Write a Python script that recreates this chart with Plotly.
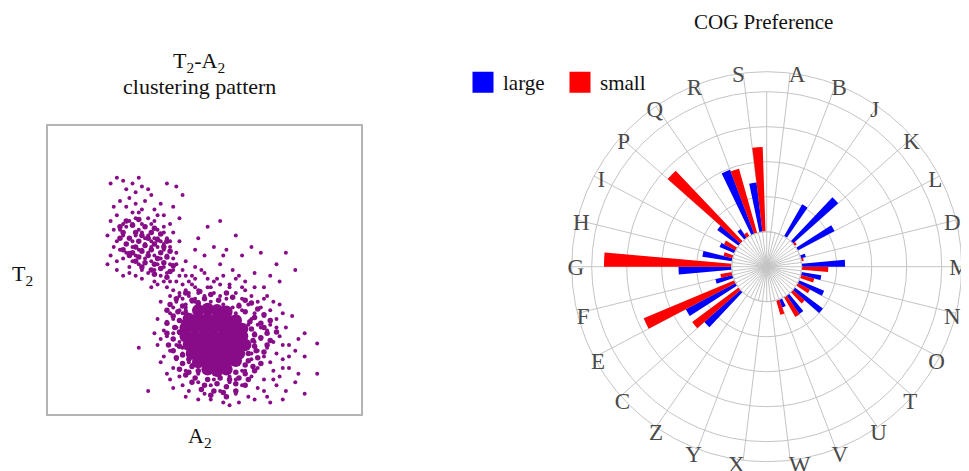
import plotly.graph_objects as go

W, H = 969, 471

# ---------------- data ----------------
cog_categories = ["A", "B", "J", "K", "L", "D", "M", "N", "O", "T", "U", "V", "W",
                  "X", "Y", "Z", "C", "E", "F", "G", "H", "I", "P", "Q", "R", "S"]
large_values = [0, 0, 1.05, 1.73, 1.19, 0.15, 1.24, 0.58, 0.78, 1.00, 0.64, 0.25, 0,
                0, 0, 0, 1.38, 1.61, 0.51, 1.52, 0.86, 0.46, 0.76, 0.31, 1.96, 1.42]
small_values = [0, 0, 0, 0.07, 0, 0.07, 0.76, 0.40, 0.40, 0.45, 0.65, 0.43, 0,
                0, 0, 0, 1.65, 2.81, 0.34, 3.65, 0.27, 0.38, 2.78, 0.13, 1.91, 2.42]
series_names = ["large", "small"]
series_colors = ["#0000ff", "#ff0000"]

# T2-A2 scatter (axis units 0-100)
# densest centre of the main cluster
core_points = [
    (48, 36), (51, 36.5), (54, 36), (57, 35.5),
    (45, 33), (48, 33), (51, 33), (54, 33), (57, 33), (60, 32.5),
    (44, 30), (47, 30), (50, 30), (53, 30), (56, 30), (59, 30), (62, 29.5),
    (44, 27), (47, 27), (50, 27), (53, 27), (56, 27), (59, 27), (62, 27),
    (45, 24), (48, 24), (51, 24), (54, 24), (57, 24), (60, 24), (63, 24),
    (46, 21), (49, 21), (52, 21), (55, 21), (58, 21), (61, 21),
    (48, 18), (51, 18), (54, 18), (57, 18), (60, 18.5),
    (51, 15.5), (54, 15), (57, 15.5),
]
# crowded halo of the main cluster and of the upper-left cluster
halo_points = [
    (44, 42), (48.5, 42.5), (52, 41.5), (57, 42),
    (41, 40), (46, 39.5), (50, 40), (54.5, 39.5), (59, 40.5), (63, 39.5),
    (39, 38), (43, 37.5), (48, 38.5), (61, 37.5), (65, 38.5),
    (38, 36), (41.5, 35.5), (63, 35.5), (67, 36.5),
    (40, 34), (44, 35), (66, 33.5), (69, 34.5),
    (38, 31.5), (42, 32.5), (64.5, 32), (68, 31.5), (71, 32.5),
    (40.5, 30), (65, 29.5), (69, 30),
    (38, 28), (42, 28.5), (66, 27.5), (70, 28), (73, 28.5),
    (40, 26), (65.5, 25.5), (68, 26.5), (71, 25.5),
    (38.5, 24), (42, 23.5), (66, 23.5), (70, 24),
    (40, 22), (43, 20.5), (64, 21), (66.5, 22), (69, 21.5),
    (41, 19.5), (45, 19), (64, 18.5), (67, 19.5),
    (43, 17.5), (46, 16.5), (63, 17), (65.5, 16.5), (68, 17.5),
    (42, 15.5), (45, 14.5), (48, 15), (60, 14.5), (63, 14), (66, 15),
    (44, 13.5), (47, 12.5), (51, 12), (55, 12.5), (58, 12), (61, 12.5), (64, 12),
    (46, 11), (50, 10), (54, 10.5), (57, 9.5), (60, 10.5), (63, 10),
    (49, 8.5), (53, 8), (56, 7.5), (60, 8), (52, 6.5), (57, 6),
    (25, 67), (29, 67.5),
    (23, 65), (27, 65.5), (31, 65), (34, 64.5),
    (24, 63), (28, 63), (30, 62), (33, 63), (36, 62.5),
    (23, 61), (26, 61), (29, 60), (32, 61), (35, 60.5), (38, 60),
    (25, 59), (28, 58), (31, 58.5), (34, 59), (37, 58),
    (24, 57), (27, 56), (30, 56.5), (33, 57), (36, 56), (39, 56.5),
    (26, 55), (29, 54.5), (32, 55), (35, 54), (38, 54.5),
    (28, 53), (31, 52.5), (34, 52), (37, 52.5), (40, 51.5),
    (30, 51), (33, 50), (36, 50.5), (39, 49.5),
    (34, 48.5), (38, 47.5),
]
# individual scattered dots
scatter_points = [
    (23, 64), (25, 65), (27, 66), (29, 64), (31, 65), (33, 66), (35, 64), (37, 63), (24, 62),
    (26, 61), (28, 62), (30, 63), (32, 62), (34, 61), (36, 60), (38, 61), (22, 60), (25, 59),
    (27, 58), (29, 60), (31, 59), (33, 58), (35, 58), (37, 57), (39, 58), (23, 57), (26, 56),
    (28, 55), (30, 57), (32, 56), (34, 55), (36, 54), (38, 55), (40, 54), (24, 54), (27, 53),
    (29, 52), (31, 54), (33, 53), (35, 52), (37, 51), (39, 52), (30, 50), (32, 49), (34, 50),
    (36, 48), (38, 49), (28, 48), (26, 51), (25, 56), (33, 60), (31, 61), (29, 57), (27, 60),
    (35, 61), (37, 59), (24, 66), (26, 67), (30, 66), (32, 68), (28, 68), (34, 67),
    (20, 80), (22, 82), (25, 78), (24, 81), (27, 80), (29, 82), (28, 77), (30, 79), (26, 75),
    (23, 74), (21, 72), (25, 72), (28, 73), (31, 74), (33, 76), (30, 71), (27, 70), (22, 69),
    (34, 71), (36, 73), (32, 78), (38, 80), (41, 79), (43, 76), (40, 72), (37, 69), (39, 66),
    (42, 68), (20, 67), (19, 62), (21, 58), (20, 55), (22, 50), (24, 48), (19, 52),
    (40, 50), (42, 48), (41, 46), (43, 45), (39, 46), (44, 43), (42, 42), (45, 41), (40, 43),
    (43, 40), (46, 39), (44, 37), (41, 39), (38, 44), (45, 46), (47, 44), (46, 48), (48, 42),
    (43, 50), (37, 46), (35, 45), (33, 44), (39, 41), (48, 39), (50, 41),
    (48, 61), (51, 65), (55, 67), (60, 62), (53, 58), (57, 57), (62, 55), (65, 58), (68, 56),
    (73, 52), (76, 56), (79, 50), (71, 48), (66, 49), (59, 50), (55, 52), (50, 55), (47, 57),
    (63, 46), (69, 44), (74, 46), (58, 45), (54, 47), (52, 44), (61, 48), (56, 55), (49, 50),
    (44, 48), (47, 47), (50, 49), (53, 46), (56, 48), (60, 47), (46, 45), (51, 44), (58, 44),
    (63, 43), (42, 41), (45, 42), (48, 43), (50, 40), (53, 42), (55, 41), (57, 40), (60, 42),
    (62, 40), (65, 41), (67, 39), (70, 41), (47, 39), (40, 37), (42, 36), (44, 38), (56, 38),
    (59, 37), (62, 36), (64, 38), (66, 35), (68, 37), (71, 36), (74, 38), (39, 35), (38, 32),
    (40, 33), (41, 30), (43, 35), (65, 33), (67, 31), (69, 34), (71, 31), (73, 33), (76, 30),
    (78, 34), (37, 29), (36, 26), (38, 27), (40, 28), (42, 25), (66, 28), (68, 26), (70, 29),
    (72, 25), (74, 27), (77, 24), (80, 26), (35, 24), (37, 20), (39, 22), (41, 19), (43, 21),
    (65, 19), (67, 22), (69, 20), (71, 18), (73, 21), (75, 19), (79, 22), (82, 20), (38, 14),
    (40, 16), (42, 13), (44, 15), (46, 17), (63, 15), (65, 13), (67, 16), (69, 12), (72, 15),
    (74, 13), (77, 16), (80, 14), (86, 14), (40, 9), (43, 10), (45, 8), (48, 11), (50, 7),
    (52, 10), (55, 8), (58, 11), (60, 7), (62, 10), (64, 6), (67, 9), (70, 6), (73, 10),
    (76, 8), (79, 11), (82, 7), (52, 5), (56, 4), (61, 4), (66, 5), (71, 4), (75, 5),
    (32, 8), (29, 23), (86, 24.5), (82, 28), (44, 36), (48, 38), (52, 39), (56, 37), (60, 35),
    (64, 31), (66, 25), (65, 21), (62, 15), (58, 13), (53, 12), (48, 14), (45, 18), (43, 23),
    (42, 28), (43, 32), (47, 40), (61, 38), (68, 30), (70, 23), (60, 12), (50, 16), (41, 24),
    (36, 39), (35, 33), (34, 28), (36, 18), (39, 12), (44, 6), (48, 5), (58, 3), (69, 8),
    (72, 12), (75, 16), (77, 20), (75, 24), (73, 30), (75, 35), (72, 39), (69, 40), (66, 44),
    (62, 44), (55, 45), (51, 47), (47, 51), (44, 53), (41, 56), (42, 60), (40, 63), (21, 64),
    (22, 53), (26, 49), (30, 47), (34, 46), (41, 52), (39, 60), (37, 65), (35, 69), (29, 70),
]

# ---------------- layout constants ----------------
SERIF = "Liberation Serif"
PURPLE = "#880c88"
GRID = "#c4c4c4"
OFF = 8                          # page body margin in the browser
CX, CY = 766.7, 266.7            # polar centre on screen (px)
R_OUT, R_HOLE, R_LAB = 195, 35, 182


def px(X):
    return (X - OFF) / W


def py(Y):
    return 1 - (Y - OFF) / H


def dom(r):
    return dict(x=[px(CX - r), px(CX + r)], y=[py(CY + r), py(CY - r)])


n = len(cog_categories)
step = 360 / n
rot = 90 - step / 2
centers = [i * step for i in range(n)]
offset, bar_w = 2.5, 5.0

fig = go.Figure()

# scatter subplot
for pts, sz in ((core_points, 12.5), (halo_points, 5.5), (scatter_points, 4)):
    fig.add_trace(go.Scatter(x=[p[0] for p in pts], y=[p[1] for p in pts], mode="markers",
                             marker=dict(size=sz, color=PURPLE, line=dict(width=0)),
                             showlegend=False, hoverinfo="skip", xaxis="x", yaxis="y"))

# polar bars (legend keys are drawn by the large square markers below, same legend group)
for vals, sign, name, col in ((large_values, -1, series_names[0], series_colors[0]),
                              (small_values, 1, series_names[1], series_colors[1])):
    fig.add_trace(go.Barpolar(r=vals, theta=[c + sign * offset for c in centers],
                              width=[bar_w] * n, name=name, legendgroup=name, showlegend=False,
                              marker=dict(color=col, line=dict(width=0)), subplot="polar"))
    fig.add_trace(go.Scatter(x=[None], y=[None], mode="markers", name=name, legendgroup=name,
                             marker=dict(symbol="square", size=16, color=col,
                                         line=dict(color=col, width=5)),
                             xaxis="x", yaxis="y", hoverinfo="skip"))

# radial axis line (up to the 4th ring)
fig.add_trace(go.Scatterpolar(r=[0, 4], theta=[rot - 90, rot - 90], mode="lines",
                              line=dict(color=GRID, width=1), showlegend=False,
                              hoverinfo="skip", subplot="polar"))
# helper subplots: spokes inside the hole, category labels
fig.add_trace(go.Scatterpolar(r=[], theta=[], subplot="polar2", showlegend=False))
fig.add_trace(go.Scatterpolar(r=[], theta=[], subplot="polar3", showlegend=False))

ann_font = dict(family=SERIF, size=22, color="#111")
fig.update_layout(
    width=W, height=H, autosize=False,
    margin=dict(l=0, r=0, t=0, b=0),
    paper_bgcolor="white", plot_bgcolor="white",
    font=dict(family=SERIF, color="#111"),
    xaxis=dict(domain=[px(48), px(361)], range=[0, 100], showgrid=False, zeroline=False,
               showticklabels=False, ticks="", showline=True, mirror=True,
               linecolor="#b4b4b4", linewidth=1.5, fixedrange=True),
    yaxis=dict(domain=[py(414), py(126)], range=[0, 100], showgrid=False, zeroline=False,
               showticklabels=False, ticks="", showline=True, mirror=True,
               linecolor="#b4b4b4", linewidth=1.5, fixedrange=True),
    polar=dict(domain=dom(R_OUT), hole=R_HOLE / R_OUT, bgcolor="white",
               radialaxis=dict(range=[0, (R_OUT - R_HOLE) / R_HOLE], tickvals=[1, 2, 3, 4],
                               showticklabels=False, ticks="", showline=False,
                               gridcolor=GRID, gridwidth=1),
               angularaxis=dict(tickmode="array", tickvals=centers, showticklabels=False,
                                ticks="", direction="clockwise", rotation=rot,
                                gridcolor=GRID, linecolor=GRID, showline=True)),
    polar2=dict(domain=dom(R_HOLE), hole=0, bgcolor="rgba(0,0,0,0)",
                radialaxis=dict(visible=False, range=[0, 1]),
                angularaxis=dict(tickmode="array", tickvals=[k * step / 2 for k in range(2 * n)],
                                 showticklabels=False, ticks="", direction="clockwise",
                                 rotation=rot, gridcolor=GRID, linecolor=GRID, showline=True)),
    polar3=dict(domain=dom(R_LAB), bgcolor="rgba(0,0,0,0)",
                radialaxis=dict(visible=False, range=[0, 1]),
                angularaxis=dict(tickmode="array", tickvals=centers, ticktext=cog_categories,
                                 showgrid=False, showline=False, ticks="",
                                 direction="clockwise", rotation=rot,
                                 tickfont=dict(family=SERIF, size=23, color="#4a4a4a"))),
    legend=dict(orientation="h", x=px(463), y=py(62), xanchor="left", yanchor="top",
                entrywidth=52, itemsizing="trace",
                font=dict(family=SERIF, size=21, color="#111"),
                bgcolor="rgba(0,0,0,0)"),
    annotations=[
        dict(text="T<sub>2</sub>-A<sub>2</sub>", x=px(199), y=py(62), xref="paper", yref="paper",
             showarrow=False, xanchor="center", yanchor="middle", font=ann_font),
        dict(text="clustering pattern", x=px(199), y=py(87), xref="paper", yref="paper",
             showarrow=False, xanchor="center", yanchor="middle", font=ann_font),
        dict(text="A<sub>2</sub>", x=px(200), y=py(437), xref="paper", yref="paper",
             showarrow=False, xanchor="center", yanchor="middle", font=ann_font),
        dict(text="T<sub>2</sub>", x=px(22), y=py(275), xref="paper", yref="paper",
             showarrow=False, xanchor="center", yanchor="middle", font=ann_font),
        dict(text="COG Preference", x=px(763), y=py(22), xref="paper", yref="paper",
             showarrow=False, xanchor="center", yanchor="middle",
             font=dict(family=SERIF, size=21, color="#111")),
    ],
)

fig.write_html("out.html")
